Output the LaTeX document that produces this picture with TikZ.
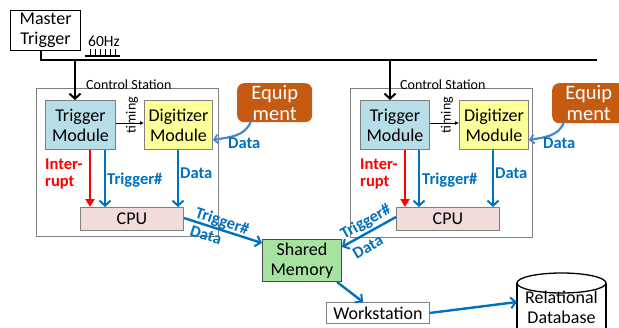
\documentclass[tikz,border=0pt]{standalone}
\usepackage{fontspec}
\setmainfont{Carlito}
\usetikzlibrary{arrows.meta}
\definecolor{cblue}{HTML}{0070C0}
\definecolor{lblue}{HTML}{4A86C8}
\definecolor{eqorange}{HTML}{C55A11}
\definecolor{tmfill}{HTML}{B7DEE8}
\definecolor{dgfill}{HTML}{FFFF99}
\definecolor{cpufill}{HTML}{F2DCDB}
\definecolor{smfill}{HTML}{A6E3A1}
\definecolor{bordergray}{HTML}{7F7F7F}
\tikzset{
  txt/.style={font=\fontsize{18}{20}\selectfont, align=center, inner sep=0pt},
  boxbase/.style={txt, draw=bordergray, line width=0.9pt, anchor=north west},
  lbl/.style={font=\fontsize{16.5}{18}\bfseries\selectfont, align=left, inner sep=0pt},
  barb/.style={-{Straight Barb[length=5pt,width=11pt,line width=2pt]}},
  bluearrow/.style={barb, draw=cblue, line width=2.4pt},
  redarrow/.style={-{Triangle[length=8pt,width=9pt]}, draw=red, line width=2.4pt},
  blackarrow/.style={barb, draw=black, line width=2.2pt},
  equip/.style={fill=eqorange, rounded corners=7pt, text=white, font=\fontsize{20.5}{21}\selectfont, align=center, inner sep=0pt},
}
\begin{document}
\begin{tikzpicture}[x=1pt,y=-1pt]
\useasboundingbox (0,0) rectangle (619,327);
% Master trigger
\node[txt, draw=black, line width=1.2pt, minimum width=70pt, minimum height=40pt, anchor=north west] (mt) at (10,10) {Master\\Trigger};
\node[txt, font=\fontsize{15.5}{16}\selectfont, anchor=south west] (hz) at (88,47) {60Hz};
\draw[line width=1.4pt] (85,56) -- (120,56);
\foreach \i in {0,...,5} \draw[line width=1pt] (90+5*\i,49) -- (90+5*\i,56);
% bus
\coordinate (busL) at (41,60);
\coordinate (busR) at (597,60);
\draw[line width=2.2pt] (mt.south -| busL) -- (busL) -- (busR);
% control stations
\node[draw=bordergray, line width=0.9pt, minimum width=182pt, minimum height=148pt, anchor=north west, inner sep=0pt] (cs1) at (36,88) {};
\node[draw=bordergray, line width=0.9pt, minimum width=182pt, minimum height=149pt, anchor=north west, inner sep=0pt] (cs2) at (350,88) {};
\node[txt, font=\fontsize{14}{15}\selectfont, anchor=south west] (csl1) at (86,89.5) {Control Station};
\node[txt, font=\fontsize{14}{15}\selectfont, anchor=south west] (csl2) at (400,89.5) {Control Station};
% modules
\node[boxbase, fill=tmfill, minimum width=70pt, minimum height=49pt] (tm1) at (45,100) {Trigger\\Module};
\node[boxbase, fill=dgfill, minimum width=68pt, minimum height=49pt] (dm1) at (144,100) {Digitizer\\Module};
\node[boxbase, fill=tmfill, minimum width=69pt, minimum height=49pt] (tm2) at (360,100) {Trigger\\Module};
\node[boxbase, fill=dgfill, minimum width=69pt, minimum height=49pt] (dm2) at (459,100) {Digitizer\\Module};
\node[boxbase, fill=cpufill, minimum width=103pt, minimum height=23pt] (cpu1) at (80,207) {CPU};
\node[boxbase, fill=cpufill, minimum width=103pt, minimum height=23pt] (cpu2) at (396,207) {CPU};
% bus drops
\draw[blackarrow] (75,60) -- (tm1.north -| 75,0);
\draw[blackarrow] (390,60) -- (tm2.north -| 390,0);
% timing
\draw[-{Latex[length=4pt,width=4pt]}, line width=0.8pt] (tm1.east |- 0,123) -- (dm1.west |- 0,123);
\draw[-{Latex[length=4pt,width=4pt]}, line width=0.8pt] (tm2.east |- 0,123) -- (dm2.west |- 0,123);
\node[txt, font=\fontsize{14}{15}\selectfont, rotate=90] (tim1) at (132,115) {timing};
\node[txt, font=\fontsize{14}{15}\selectfont, rotate=90] (tim2) at (447,115) {timing};
% equipment
\node[equip, minimum width=75pt, minimum height=39pt, anchor=north west] (eq1) at (237,83) {Equip\\ment};
\node[equip, minimum width=73pt, minimum height=40pt, anchor=north west] (eq2) at (552,83) {Equip\\ment};
\draw[-{Straight Barb[length=4pt,width=9pt,line width=1.8pt]}, draw=lblue, line width=2.2pt] (251,121) to[out=250,in=10] (dm1.east |- 0,140);
\draw[-{Straight Barb[length=4pt,width=9pt,line width=1.8pt]}, draw=lblue, line width=2.2pt] (564,122) to[out=250,in=10] (dm2.east |- 0,140);
\node[lbl, text=cblue, anchor=west] (eqd1) at (228,143) {Data};
\node[lbl, text=cblue, anchor=west] (eqd2) at (543,143) {Data};
% internal arrows station 1
\draw[redarrow] (tm1.south -| 90,0) -- (cpu1.north -| 90,0);
\draw[bluearrow] (tm1.south -| 105,0) -- (cpu1.north -| 105,0);
\draw[bluearrow] (dm1.south -| 178,0) -- (cpu1.north -| 178,0);
\node[lbl, text=red, anchor=west, font=\fontsize{16.5}{17}\bfseries\selectfont] (int1) at (45,174) {Inter-\\rupt};
\node[lbl, text=cblue, anchor=west] (tg1) at (107,180) {Trigger\#};
\node[lbl, text=cblue, anchor=west] (dt1) at (180,173) {Data};
% internal arrows station 2
\draw[redarrow] (tm2.south -| 405,0) -- (cpu2.north -| 405,0);
\draw[bluearrow] (tm2.south -| 419,0) -- (cpu2.north -| 419,0);
\draw[bluearrow] (dm2.south -| 493,0) -- (cpu2.north -| 493,0);
\node[lbl, text=red, anchor=west, font=\fontsize{16.5}{17}\bfseries\selectfont] (int2) at (360,174) {Inter-\\rupt};
\node[lbl, text=cblue, anchor=west] (tg2) at (422,180) {Trigger\#};
\node[lbl, text=cblue, anchor=west] (dt2) at (495,173) {Data};
% shared memory, workstation, database
\node[boxbase, draw=black!70, fill=smfill, minimum width=79pt, minimum height=42pt] (sm) at (262,239) {Shared\\Memory};
\node[boxbase, fill=white, minimum width=103pt, minimum height=21pt] (ws) at (326,302) {Workstation};
\draw[line width=1.3pt, fill=white] (517,283) -- (517,330) -- (606,330) -- (606,283);
\draw[line width=1.3pt, fill=white] (561.5,283) ellipse [x radius=44.5pt, y radius=10pt];
\node[txt, anchor=center] (db) at (561.5,307) {Relational\\Database};
\coordinate (dbin) at (517,302);
% connections to shared memory
\draw[bluearrow] (cpu1.east |- 0,218) -- (sm.west |- 0,243);
\draw[bluearrow] (cpu2.west |- 0,217) -- (sm.east |- 0,247);
\node[lbl, text=cblue, rotate=-18, anchor=center] (tgs1) at (222,222) {Trigger\#};
\node[lbl, text=cblue, rotate=-18, anchor=center] (dts1) at (206,235) {Data};
\node[lbl, text=cblue, rotate=30, anchor=center] (tgs2) at (366,222) {Trigger\#};
\node[lbl, text=cblue, rotate=30, anchor=center] (dts2) at (368,247) {Data};
\draw[bluearrow] (337,282) -- (ws.north -| 363,0);
\draw[bluearrow] (ws.east) -- (dbin);
\end{tikzpicture}
\end{document}
